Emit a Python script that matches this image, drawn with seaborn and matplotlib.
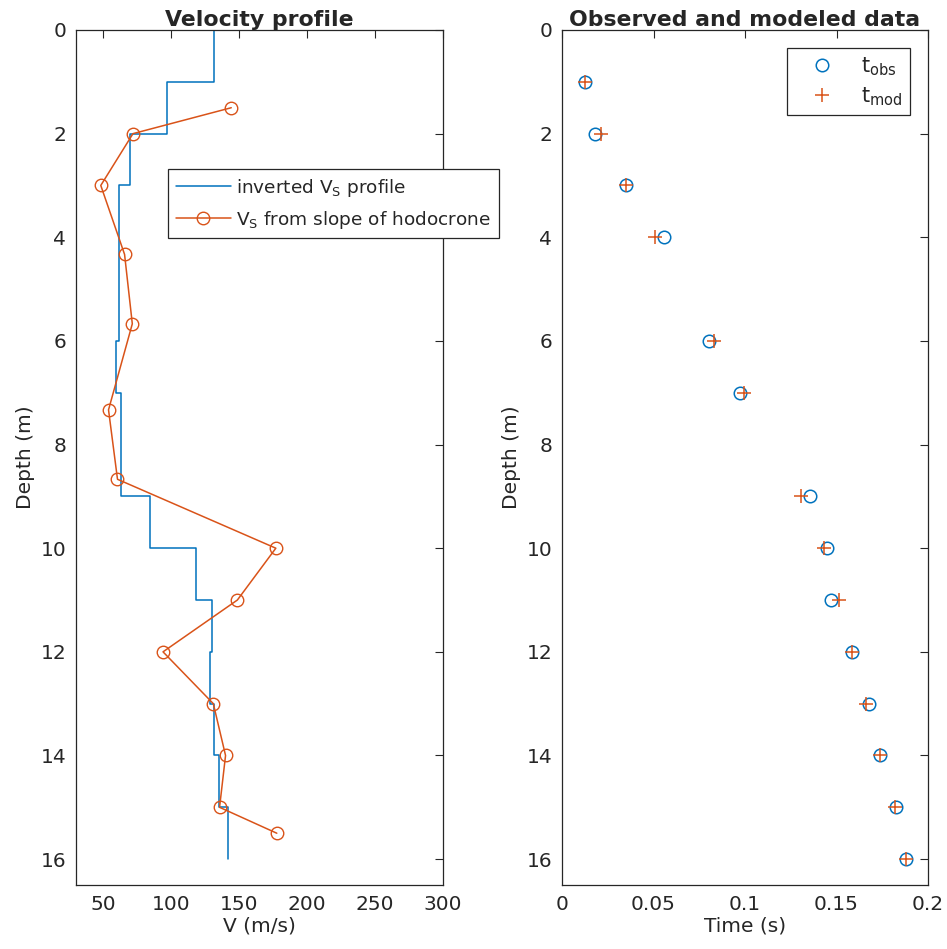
import numpy as np
import pandas as pd
import matplotlib
matplotlib.use("Agg")
import matplotlib.pyplot as plt
import seaborn as sns

# ---- data ----
layer_top = [0, 1, 2, 3, 6, 7, 9, 10, 11, 12, 13, 14, 15]
layer_bot = [1, 2, 3, 6, 7, 9, 10, 11, 12, 13, 14, 15, 16]
layer_vs = [131.4, 97.0, 70.0, 61.3, 59.5, 63.0, 84.6, 117.9, 130.2, 128.5, 131.4, 135.1, 141.8]

slope_depth = [1.5, 2, 3, 4.33, 5.67, 7.33, 8.67, 10, 11, 12, 13, 14, 15, 15.5]
slope_vs = [144.2, 71.9, 48.2, 65.7, 71.4, 53.9, 60.5, 177.0, 148.7, 94.0, 131.0, 140.0, 135.6, 177.7]

rec_depth = [1, 2, 3, 4, 6, 7, 9, 10, 11, 12, 13, 14, 15, 16]
t_obs = [0.0124, 0.0178, 0.0350, 0.0555, 0.0805, 0.0970, 0.1357, 0.1448, 0.1470, 0.1585, 0.1680, 0.1735, 0.1827, 0.1880]
t_mod = [0.0124, 0.0215, 0.0350, 0.0506, 0.0829, 0.0996, 0.1308, 0.1433, 0.1515, 0.1585, 0.1663, 0.1735, 0.1817, 0.1880]

BLUE = "#0072BD"
ORANGE = "#D95319"
DARK = "#262626"

sns.set_theme(style="white")
plt.rcParams["font.family"] = ["DejaVu Sans"]
plt.rcParams["mathtext.default"] = "regular"

fig = plt.figure(figsize=(9.47, 9.49), dpi=100)
ax1 = fig.add_axes([0.0803, 0.0674, 0.3875, 0.901])
ax2 = fig.add_axes([0.5935, 0.0674, 0.3865, 0.901])

# step profile arrays
step_v = np.repeat(layer_vs, 2)
step_d = np.column_stack([layer_top, layer_bot]).ravel()
step_df = pd.DataFrame({"v": step_v, "d": step_d})
slope_df = pd.DataFrame({"v": slope_vs, "d": slope_depth})

sns.lineplot(data=step_df, x="v", y="d", sort=False, estimator=None, ax=ax1,
             color=BLUE, linewidth=1.1, label="inverted V$_S$ profile")
sns.lineplot(data=slope_df, x="v", y="d", sort=False, estimator=None, ax=ax1,
             color=ORANGE, linewidth=1.1, marker="o", markersize=9,
             markerfacecolor="none", markeredgecolor=ORANGE, markeredgewidth=1.0,
             label="V$_S$ from slope of hodocrone")

obs_df = pd.DataFrame({"t": t_obs, "d": rec_depth})
mod_df = pd.DataFrame({"t": t_mod, "d": rec_depth})
sns.lineplot(data=obs_df, x="t", y="d", sort=False, estimator=None, ax=ax2,
             linestyle="", marker="o", markersize=9, markerfacecolor="none",
             markeredgecolor=BLUE, markeredgewidth=1.1, color=BLUE, label="t$_{obs}$")
sns.lineplot(data=mod_df, x="t", y="d", sort=False, estimator=None, ax=ax2,
             linestyle="", marker="+", markersize=10, markeredgecolor=ORANGE,
             markeredgewidth=1.1, color=ORANGE, label="t$_{mod}$")

for ax in (ax1, ax2):
    ax.set_ylim(16.5, 0)
    ax.set_yticks(np.arange(0, 17, 2))
    ax.tick_params(direction="in", length=6, width=0.8, colors=DARK,
                   top=True, right=True, labelsize=14.5, pad=7,
                   labelcolor=DARK)
    for s in ax.spines.values():
        s.set_color(DARK)
        s.set_linewidth(0.9)
        s.set_visible(True)
    ax.set_ylabel("Depth (m)", fontsize=14.5, color=DARK)
    ax.grid(False)

ax1.set_xlim(30, 300)
ax1.set_xticks([50, 100, 150, 200, 250, 300])
ax1.set_xlabel("V (m/s)", fontsize=14.5, color=DARK, labelpad=2)
ax1.set_title("Velocity profile", fontsize=15.8, fontweight="bold", pad=3)

ax2.set_xlim(0, 0.2)
ax2.set_xticks([0, 0.05, 0.1, 0.15, 0.2])
ax2.set_xticklabels(["0", "0.05", "0.1", "0.15", "0.2"])
ax2.set_xlabel("Time (s)", fontsize=14.5, color=DARK, labelpad=2)
ax2.set_title("Observed and modeled data", fontsize=15.8, fontweight="bold", pad=3)

leg1 = ax1.legend(loc="upper left", bbox_to_anchor=(0.251, 0.837), fontsize=13.3,
                  frameon=True, fancybox=False, edgecolor=DARK, framealpha=1,
                  handlelength=3.0, borderpad=0.4, labelspacing=0.55, handletextpad=0.3,
                  borderaxespad=0)
leg1.get_frame().set_linewidth(0.9)
leg1.set_clip_on(False)

leg2 = ax2.legend(loc="upper right", bbox_to_anchor=(0.951, 0.979), fontsize=15,
                  frameon=True, fancybox=False, edgecolor=DARK, framealpha=1,
                  handlelength=2.6, borderpad=0.35, labelspacing=0.35, handletextpad=0.6,
                  borderaxespad=0)
leg2.get_frame().set_linewidth(0.9)

fig.savefig("out.png", dpi=100, facecolor="white")
